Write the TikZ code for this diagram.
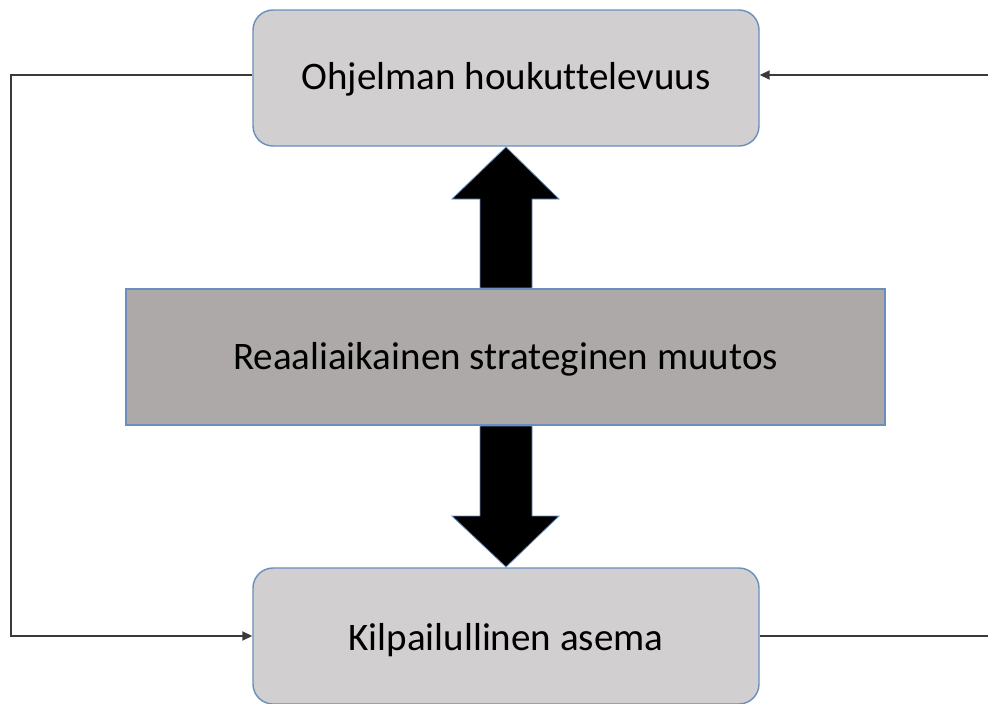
\documentclass[tikz,border=0pt]{standalone}
\usepackage{fontspec}
\setmainfont[Ligatures=NoCommon]{Carlito}
\usetikzlibrary{arrows.meta}
\definecolor{boxfill}{HTML}{D1CFD0}
\definecolor{midfill}{HTML}{ADA9A8}
\definecolor{boxedge}{HTML}{6A8EBE}
\definecolor{linecol}{HTML}{3A3A3A}
\tikzset{
  rbox/.style={draw=boxedge, line width=1.4pt, fill=boxfill, rounded corners=20pt,
    minimum width=506pt, minimum height=136pt, inner sep=0pt},
  mbox/.style={draw=boxedge, line width=1.4pt, fill=midfill,
    minimum width=759pt, minimum height=136pt, inner sep=0pt},
  lbl/.style={font=\fontsize{39}{44}\selectfont, anchor=base, inner sep=0pt},
  conn/.style={draw=linecol, line width=1.8pt},
  tip/.style={-{Triangle[length=10pt,width=9pt]}},
  bigarrow/.style={fill=black, draw=boxedge, line width=0.8pt, line join=miter}
}
\begin{document}
\begin{tikzpicture}[x=1pt,y=-1pt]
\useasboundingbox (0,0) rectangle (988,704);
\fill[white] (0,0) rectangle (988,704);
% big arrows
\draw[bigarrow] (480,288) -- (480,199) -- (452,199) -- (506,147) -- (559,199) -- (532,199) -- (532,288) -- cycle;
\draw[bigarrow] (480,426) -- (480,516) -- (452,516) -- (506,567) -- (559,516) -- (532,516) -- (532,426) -- cycle;
% boxes
\node[rbox] (top) at (506,78) {};
\node[lbl] (toptxt) at (506,89) {Ohjelman houkuttelevuus};
\node[mbox] (mid) at (505.5,357) {};
\node[lbl] (midtxt) at (505.5,369) {Reaaliaikainen strateginen muutos};
\node[rbox] (bot) at (506,636) {};
\node[lbl] (bottxt) at (506,650) {Kilpailullinen asema};
% connectors
\coordinate (lc1) at (11,75);
\coordinate (lc2) at (11,636);
\coordinate (rin) at (988,75);
\coordinate (rout) at (988,636);
\draw[conn, tip] (top.west |- lc1) -- (lc1) -- (lc2) -- (bot.west |- lc2);
\draw[conn, tip] (rin) -- (top.east |- rin);
\draw[conn] (bot.east |- rout) -- (rout);
\end{tikzpicture}
\end{document}
